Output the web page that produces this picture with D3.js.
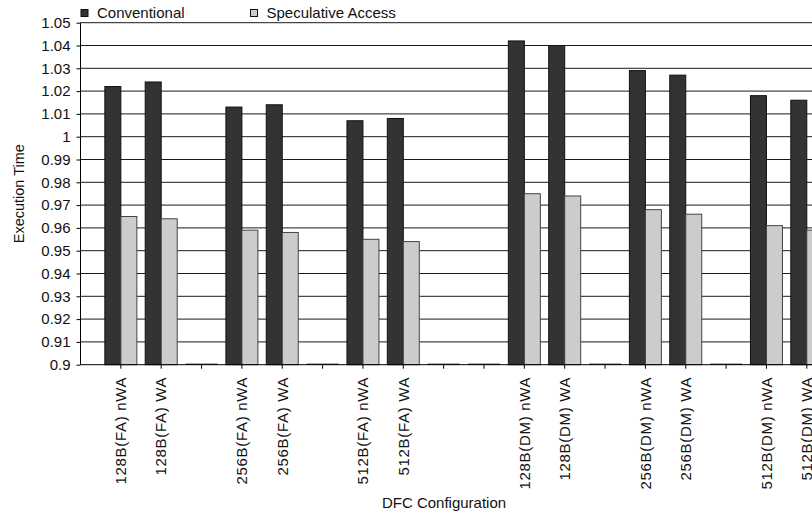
<!DOCTYPE html>
<html>
<head>
<meta charset="utf-8">
<script src="https://cdn.jsdelivr.net/npm/d3@7"></script>
<style>
  html, body { margin: 0; padding: 0; background: #fff; }
  svg { display: block; font-family: "Liberation Sans", Arial, Helvetica, sans-serif; }
</style>
</head>
<body>
<svg id="chart" width="812" height="514"></svg>
<script>
// Category slots; empty strings are spacer slots between configuration groups
const categories = [
  "128B(FA) nWA", "128B(FA) WA", "",
  "256B(FA) nWA", "256B(FA) WA", "",
  "512B(FA) nWA", "512B(FA) WA", "", "",
  "128B(DM) nWA", "128B(DM) WA", "",
  "256B(DM) nWA", "256B(DM) WA", "",
  "512B(DM) nWA", "512B(DM) WA"
];
const seriesNames = ["Conventional", "Speculative Access"];
const conventional = [1.022, 1.024, 0, 1.013, 1.014, 0, 1.007, 1.008, 0, 0, 1.042, 1.040, 0, 1.029, 1.027, 0, 1.018, 1.016];
const speculative  = [0.965, 0.964, 0, 0.959, 0.958, 0, 0.955, 0.954, 0, 0, 0.975, 0.974, 0, 0.968, 0.966, 0, 0.961, 0.959];
const yTicks = [0.9, 0.91, 0.92, 0.93, 0.94, 0.95, 0.96, 0.97, 0.98, 0.99, 1, 1.01, 1.02, 1.03, 1.04, 1.05];
const yTickLabels = ["0.9", "0.91", "0.92", "0.93", "0.94", "0.95", "0.96", "0.97", "0.98", "0.99", "1", "1.01", "1.02", "1.03", "1.04", "1.05"];

const svg = d3.select("#chart");
const W = 812, H = 514;
const plot = { left: 80.5, top: 22.7, bottom: 364.7, right: 812 };
const step = 40.35;
const FONT = "'Liberation Sans', Arial, Helvetica, sans-serif";

const yMin = yTicks[0], yMax = yTicks[yTicks.length - 1];
const y = d3.scaleLinear().domain([yMin, yMax]).range([plot.bottom, plot.top]);

const idx = categories.map((_, i) => i);
const x = d3.scaleBand()
  .domain(idx)
  .range([plot.left + step / 2, plot.left + step / 2 + categories.length * step])
  .padding(0);
const inner = d3.scaleBand()
  .domain([0, 1])
  .range([(step - 32) / 2, (step + 32) / 2])
  .padding(0);

const fills = ["#333333", "#cccccc"];
const strokes = ["#111111", "#444444"];

svg.append("clipPath").attr("id", "plotclip")
  .append("rect").attr("x", 0).attr("y", 0).attr("width", W).attr("height", H);

// horizontal gridlines
svg.append("g")
  .selectAll("line")
  .data(yTicks.slice(1))
  .join("line")
  .attr("x1", plot.left).attr("x2", plot.right)
  .attr("y1", d => y(d)).attr("y2", d => y(d))
  .attr("stroke", "#1a1a1a").attr("stroke-width", 1);

// bars; zero entries sit flat on the axis floor
const rows = categories.map((c, i) => ({ i, vals: [conventional[i], speculative[i]] }));
const gBars = svg.append("g").attr("clip-path", "url(#plotclip)");
rows.forEach(r => {
  r.vals.forEach((v, s) => {
    const top = y(Math.max(v, yMin));
    gBars.append("rect")
      .attr("x", x(r.i) + inner(s))
      .attr("y", top - (v <= yMin ? 1 : 0))
      .attr("width", inner.bandwidth())
      .attr("height", Math.max(0, plot.bottom - top) + (v <= yMin ? 1 : 0))
      .attr("fill", v <= yMin ? "#000" : fills[s])
      .attr("stroke", v <= yMin ? "none" : strokes[s])
      .attr("stroke-width", 1);
  });
});

// y axis
const yAxis = d3.axisLeft(y)
  .tickValues(yTicks)
  .tickFormat((d, i) => yTickLabels[i])
  .tickSize(4)
  .tickPadding(6);
const gy = svg.append("g").attr("transform", `translate(${plot.left},0)`).call(yAxis)
  .attr("font-family", FONT);
gy.select(".domain").attr("stroke", "#000").attr("d", `M0,${plot.top}V${plot.bottom}`);
gy.selectAll(".tick line").attr("stroke", "#000");
gy.selectAll("text").attr("font-size", 15).attr("fill", "#111");

// x axis
const xAxis = d3.axisBottom(x)
  .tickFormat(i => categories[i])
  .tickSize(4)
  .tickSizeOuter(0);
const gx = svg.append("g").attr("transform", `translate(0,${plot.bottom})`).call(xAxis)
  .attr("font-family", FONT);
gx.select(".domain").attr("stroke", "#000").attr("d", `M${plot.left},0H${plot.right}`);
gx.selectAll(".tick line").attr("stroke", "#000");
gx.selectAll("text")
  .attr("font-size", 15).attr("fill", "#111")
  .attr("letter-spacing", "0.7px")
  .attr("text-anchor", "end")
  .attr("transform", "rotate(-90)")
  .attr("x", -12).attr("y", 0).attr("dy", "0.35em");

// axis titles
svg.append("text")
  .attr("transform", `translate(24,${(plot.top + plot.bottom) / 2}) rotate(-90)`)
  .attr("text-anchor", "middle")
  .attr("font-size", 14.5).attr("fill", "#111")
  .text("Execution Time");
svg.append("text")
  .attr("x", 444).attr("y", 508)
  .attr("text-anchor", "middle")
  .attr("font-size", 15).attr("fill", "#111")
  .text("DFC Configuration");

// legend
const legendX = [81, 250.5];
const legend = svg.append("g");
seriesNames.forEach((name, s) => {
  legend.append("rect")
    .attr("x", legendX[s]).attr("y", 9.5)
    .attr("width", 7).attr("height", 7)
    .attr("fill", fills[s]).attr("stroke", "#111").attr("stroke-width", 1);
  legend.append("text")
    .attr("x", legendX[s] + 16).attr("y", 17.5)
    .attr("font-size", 15).attr("fill", "#111")
    .text(name);
});
</script>
</body>
</html>
